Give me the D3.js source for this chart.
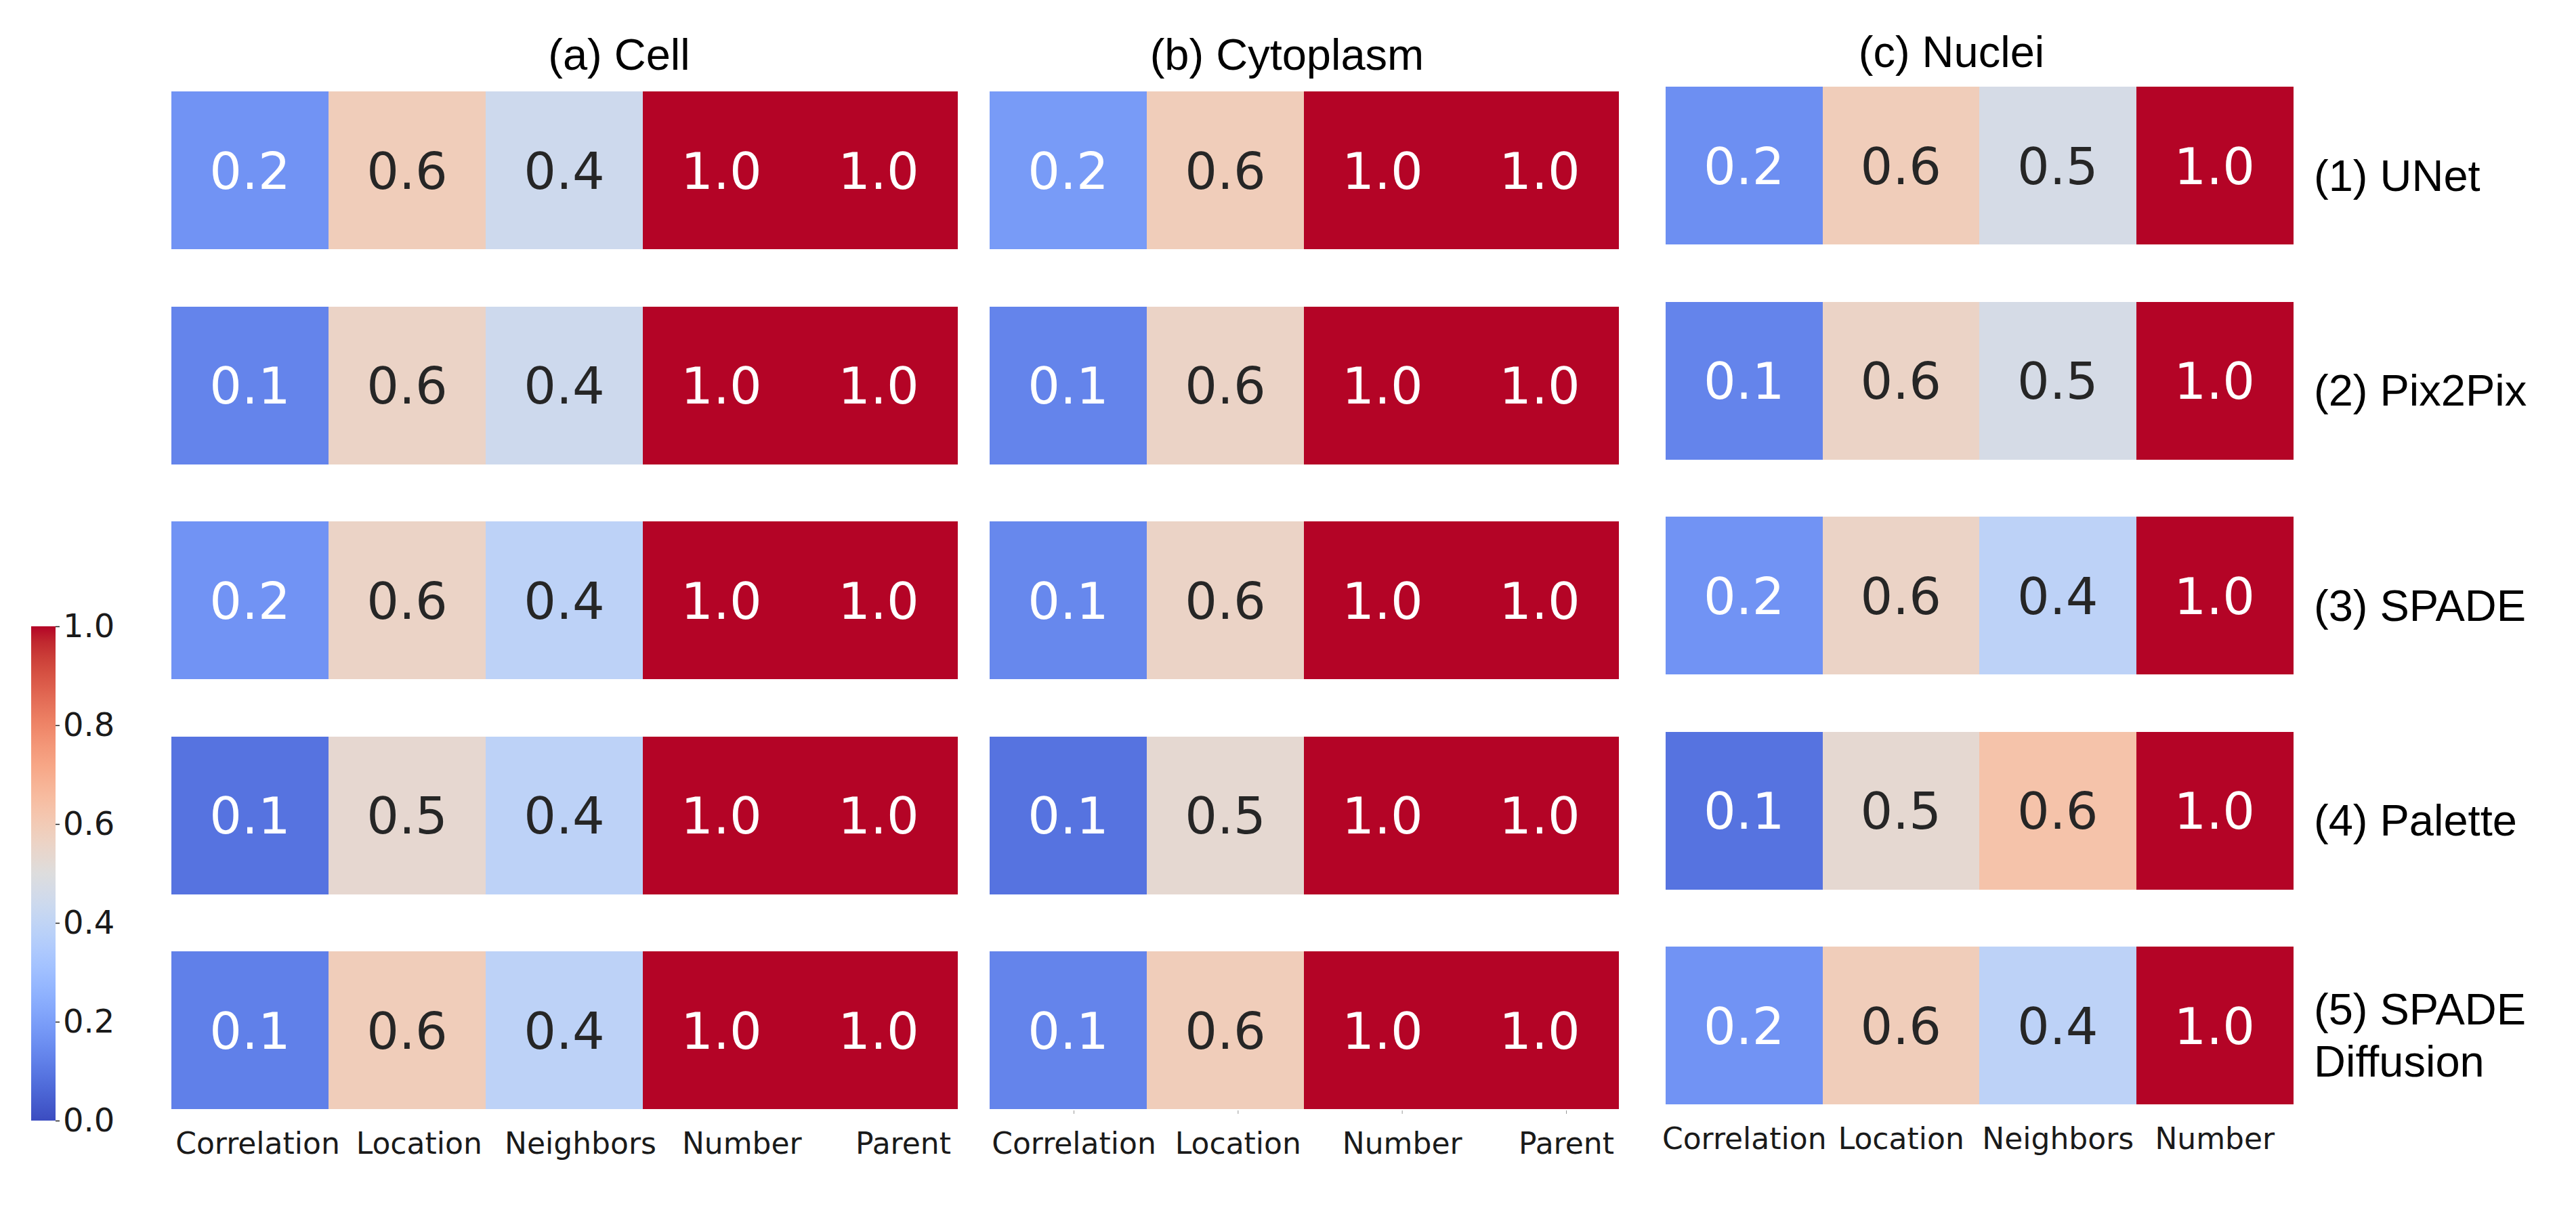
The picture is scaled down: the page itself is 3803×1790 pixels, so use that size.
<!DOCTYPE html>
<html>
<head>
<meta charset="utf-8">
<script src="https://cdn.jsdelivr.net/npm/d3@7/dist/d3.min.js"></script>
<style>
  html, body { margin: 0; padding: 0; background: #fff; }
  svg { display: block; }
</style>
</head>
<body>
<svg id="chart"></svg>
<script>
// ---- data (annotations are the values rounded to one decimal) ----
const methods = ["(1) UNet", "(2) Pix2Pix", "(3) SPADE", "(4) Palette", "(5) SPADE\nDiffusion"];

const cellMetrics = ["Correlation", "Location", "Neighbors", "Number", "Parent"];
const cytoMetrics = ["Correlation", "Location", "Number", "Parent"];
const nucMetrics = ["Correlation", "Location", "Neighbors", "Number"];

const cellValues = [
  [0.17, 0.59, 0.44, 1.0, 1.0],
  [0.13, 0.56, 0.44, 1.0, 1.0],
  [0.17, 0.56, 0.39, 1.0, 1.0],
  [0.09, 0.535, 0.39, 1.0, 1.0],
  [0.12, 0.59, 0.39, 1.0, 1.0]
];
const cytoValues = [
  [0.19, 0.59, 1.0, 1.0],
  [0.13, 0.56, 1.0, 1.0],
  [0.14, 0.56, 1.0, 1.0],
  [0.09, 0.53, 1.0, 1.0],
  [0.13, 0.59, 1.0, 1.0]
];
const nucValues = [
  [0.16, 0.59, 0.47, 1.0],
  [0.13, 0.56, 0.47, 1.0],
  [0.17, 0.56, 0.39, 1.0],
  [0.09, 0.53, 0.63, 1.0],
  [0.17, 0.59, 0.39, 1.0]
];

const colorbarTicks = [0, 0.2, 0.4, 0.6, 0.8, 1.0];

// coolwarm colormap (Moreland diverging map)
const coolwarmStops = [
  [59,76,192],[68,90,204],[77,104,215],[87,117,225],[98,130,234],[108,142,241],
  [119,154,247],[130,165,251],[141,176,254],[152,185,255],[163,194,255],[174,201,253],
  [184,208,249],[194,213,244],[204,217,238],[213,219,230],[221,221,221],[229,216,209],
  [236,211,197],[241,204,184],[245,196,172],[247,187,159],[247,177,147],[247,166,134],
  [244,154,123],[241,141,111],[236,127,99],[229,112,89],[222,96,77],[213,80,66],
  [203,62,56],[192,40,47],[180,4,38]
];

// ---- layout ----
const W = 3803, H = 1790;
const panels = [
  { title: "(a) Cell", metrics: cellMetrics, values: cellValues,
    x: [253, 1413], y: [135, 1638], titleX: 914, titleY: 103, labels: [380, 1333], ticks: false },
  { title: "(b) Cytoplasm", metrics: cytoMetrics, values: cytoValues,
    x: [1461, 2389], y: [135, 1638], titleX: 1900, titleY: 103, labels: [1585, 2312], ticks: true },
  { title: "(c) Nuclei", metrics: nucMetrics, values: nucValues,
    x: [2459, 3385], y: [128, 1631], titleX: 2881, titleY: 99, labels: null, ticks: false }
];
const rowGapRatio = 84.5 / 317.5;

const color = d3.scaleLinear()
  .domain(coolwarmStops.map((d, i) => i / (coolwarmStops.length - 1)))
  .range(coolwarmStops.map(c => d3.rgb(c[0], c[1], c[2])))
  .interpolate(d3.interpolateRgb)
  .clamp(true);

const fmt = d3.format(".1f");

// seaborn style: dark text on light cells, white on dark
function textColor(v) {
  const c = d3.rgb(color(v));
  const lin = x => { x /= 255; return x <= 0.03928 ? x / 12.92 : Math.pow((x + 0.055) / 1.055, 2.4); };
  const lum = 0.2126 * lin(c.r) + 0.7152 * lin(c.g) + 0.0722 * lin(c.b);
  return lum > 0.408 ? "#262626" : "#ffffff";
}

const svg = d3.select("#chart")
  .attr("width", W)
  .attr("height", H)
  .attr("viewBox", `0 0 ${W} ${H}`);

svg.append("rect").attr("width", W).attr("height", H).attr("fill", "white");

panels.forEach(function (p) {
  let xScale = d3.scaleBand().domain(p.metrics).range(p.x);
  let yScale = d3.scaleBand().domain(methods).range(p.y).paddingInner(rowGapRatio);

  let g = svg.append("g");

  let cells = [];
  p.values.forEach(function (row, i) {
    row.forEach(function (v, j) {
      cells.push({ method: methods[i], metric: p.metrics[j], value: v });
    });
  });

  g.selectAll("rect.cell")
    .data(cells)
    .enter()
    .append("rect")
    .attr("class", "cell")
    .attr("x", d => xScale(d.metric))
    .attr("y", d => yScale(d.method))
    .attr("width", xScale.bandwidth() + 0.5)
    .attr("height", yScale.bandwidth())
    .attr("fill", d => color(d.value))
    .attr("shape-rendering", "crispEdges");

  g.selectAll("text.annot")
    .data(cells)
    .enter()
    .append("text")
    .attr("class", "annot")
    .attr("x", d => xScale(d.metric) + xScale.bandwidth() / 2)
    .attr("y", d => yScale(d.method) + yScale.bandwidth() / 2)
    .attr("dy", "0.36em")
    .attr("text-anchor", "middle")
    .attr("font-family", "DejaVu Sans")
    .attr("font-size", 75)
    .attr("fill", d => textColor(d.value))
    .text(d => fmt(d.value));

  // metric labels under the panel
  let labelScale;
  if (p.labels) {
    labelScale = d3.scalePoint().domain(p.metrics).range(p.labels);
  } else {
    labelScale = d3.scalePoint().domain(p.metrics).range([
      p.x[0] + xScale.bandwidth() / 2, p.x[1] - xScale.bandwidth() / 2]);
  }
  let xAxis = d3.axisBottom(labelScale)
    .tickSize(p.ticks ? 5 : 0)
    .tickPadding(p.ticks ? 28 : 33);
  let ax = svg.append("g")
    .attr("transform", `translate(0, ${p.y[1] + 2})`)
    .call(xAxis);
  ax.select(".domain").remove();
  ax.selectAll("line").attr("stroke", "#999").attr("stroke-width", 1);
  ax.selectAll("text")
    .attr("font-family", "DejaVu Sans")
    .attr("font-size", 44)
    .attr("fill", "#1a1a1a");

  // panel title
  svg.append("text")
    .attr("x", p.titleX)
    .attr("y", p.titleY)
    .attr("text-anchor", "middle")
    .attr("font-family", "Liberation Sans, Arial, sans-serif")
    .attr("font-size", 65)
    .attr("fill", "#000")
    .text(p.title);
});

// method labels on the right of the last panel
let lastPanel = panels[panels.length - 1];
let rowScale = d3.scaleBand().domain(methods).range(lastPanel.y).paddingInner(rowGapRatio);
let lineGap = 77;
let rowLabels = svg.append("g")
  .selectAll("text")
  .data(methods)
  .enter()
  .append("text")
  .attr("font-family", "Liberation Sans, Arial, sans-serif")
  .attr("font-size", 65)
  .attr("fill", "#000");
rowLabels.each(function (d) {
  let lines = d.split("\n");
  let cy = rowScale(d) + rowScale.bandwidth() / 2 + 37;
  let t = d3.select(this);
  lines.forEach(function (line, i) {
    t.append("tspan")
      .attr("x", lastPanel.x[1] + 31)
      .attr("y", cy + (i - (lines.length - 1) / 2) * lineGap)
      .text(line);
  });
});

// colorbar
const cbar = { x: 46, w: 36, top: 925, bottom: 1655 };
let defs = svg.append("defs");
let grad = defs.append("linearGradient")
  .attr("id", "coolwarm")
  .attr("x1", 0).attr("y1", 1).attr("x2", 0).attr("y2", 0);
grad.selectAll("stop")
  .data(coolwarmStops)
  .enter()
  .append("stop")
  .attr("offset", (d, i) => i / (coolwarmStops.length - 1))
  .attr("stop-color", d => `rgb(${d[0]},${d[1]},${d[2]})`);

svg.append("rect")
  .attr("x", cbar.x)
  .attr("y", cbar.top)
  .attr("width", cbar.w)
  .attr("height", cbar.bottom - cbar.top)
  .attr("fill", "url(#coolwarm)");

let cbScale = d3.scaleLinear().domain([0, 1]).range([cbar.bottom, cbar.top]);
let cbAxis = d3.axisRight(cbScale)
  .tickValues(colorbarTicks)
  .tickFormat(fmt)
  .tickSize(6)
  .tickPadding(5);
let cb = svg.append("g")
  .attr("transform", `translate(${cbar.x + cbar.w}, 0)`)
  .call(cbAxis);
cb.select(".domain").remove();
cb.selectAll("line").attr("stroke", "#222").attr("stroke-width", 1.5);
cb.selectAll("text")
  .attr("font-family", "DejaVu Sans")
  .attr("font-size", 48)
  .attr("fill", "#1a1a1a");
</script>
</body>
</html>
